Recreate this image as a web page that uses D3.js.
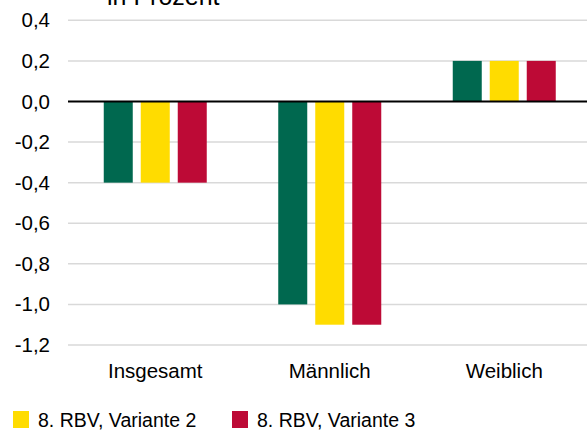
<!DOCTYPE html>
<html>
<head>
<meta charset="utf-8">
<script src="https://cdn.jsdelivr.net/npm/d3@7"></script>
<style>
  body { margin: 0; background: #fff; }
  svg { display: block; font-family: "Liberation Sans", Arial, sans-serif; }
</style>
</head>
<body>
<div id="chart-area"></div>
<script>
// values
var categories = ["Insgesamt", "Männlich", "Weiblich"]
var seriesNames = ["8. RBV, Variante 1", "8. RBV, Variante 2", "8. RBV, Variante 3"]
var variante1 = [-0.4, -1.0, 0.2]
var variante2 = [-0.4, -1.1, 0.2]
var variante3 = [-0.4, -1.1, 0.2]
var yTicks = [0.4, 0.2, 0.0, -0.2, -0.4, -0.6, -0.8, -1.0, -1.2]
var legendItems = ["8. RBV, Variante 2", "8. RBV, Variante 3"]
var colors = ["#00684f", "#ffdc00", "#bd0a36"]

var seriesValues = [variante1, variante2, variante3]

var svgWidth = 587, svgHeight = 432
var svg = d3.select("#chart-area").append("svg")
    .attr("width", svgWidth)
    .attr("height", svgHeight)

var plotLeft = 68, plotRight = 591.5

var yScale = d3.scaleLinear()
    .domain([-1.2, 0.4])
    .range([345, 20.3])

var xScale = d3.scaleBand()
    .domain(categories)
    .range([plotLeft, plotRight])

var xInner = d3.scaleBand()
    .domain(d3.range(seriesNames.length))
    .range([-51.5, 51.5])
    .paddingInner(8 / 37)

var fmt = function(v) { return d3.format(".1f")(v).replace(".", ",").replace("−", "-") }

// grid
var grid = svg.append("g").attr("id", "grid")
grid.selectAll("line")
    .data(yTicks.filter(function(t) { return t !== 0 }))
    .enter().append("line")
    .attr("x1", plotLeft)
    .attr("x2", svgWidth)
    .attr("y1", function(d) { return yScale(d) })
    .attr("y2", function(d) { return yScale(d) })
    .attr("stroke", "#d9d9d9")
    .attr("stroke-width", 1.5)

// y axis labels
var yAxis = svg.append("g")
    .attr("id", "y-axis")
    .attr("transform", "translate(50,0)")
    .call(d3.axisLeft(yScale).tickValues(yTicks).tickFormat(fmt).tickSize(0).tickPadding(0))
yAxis.select(".domain").remove()
yAxis.selectAll("text")
    .attr("font-family", "Liberation Sans, Arial, sans-serif")
    .attr("font-size", "20.5px")
    .attr("fill", "#000")

// bars
var rows = []
categories.forEach(function(c, i) {
    seriesValues.forEach(function(vals, s) {
        rows.push({ cat: c, s: s, v: vals[i] })
    })
})

svg.append("g").attr("id", "bars")
    .selectAll(".bar")
    .data(rows)
    .enter().append("rect")
    .attr("class", "bar")
    .attr("x", function(d) { return xScale(d.cat) + xScale.bandwidth() / 2 + xInner(d.s) })
    .attr("width", xInner.bandwidth())
    .attr("y", function(d) { return yScale(Math.max(0, d.v)) })
    .attr("height", function(d) { return Math.abs(yScale(d.v) - yScale(0)) })
    .attr("fill", function(d) { return colors[d.s] })

// zero line
svg.append("line")
    .attr("x1", plotLeft)
    .attr("x2", svgWidth)
    .attr("y1", yScale(0))
    .attr("y2", yScale(0))
    .attr("stroke", "#000")
    .attr("stroke-width", 2)

// category labels
var xAxis = svg.append("g")
    .attr("id", "x-axis")
    .attr("transform", "translate(0,372)")
    .call(d3.axisBottom(xScale).tickSize(0).tickPadding(0))
xAxis.select(".domain").remove()
xAxis.selectAll("text")
    .attr("dy", 0)
    .attr("y", 6)
    .attr("font-family", "Liberation Sans, Arial, sans-serif")
    .attr("font-size", "20.5px")
    .attr("fill", "#000")

// unit label (cut at the top, as in the original)
svg.append("text")
    .attr("x", 107)
    .attr("y", 5)
    .attr("font-size", "25px")
    .attr("fill", "#000")
    .text("in Prozent")

// legend
var legend = svg.append("g").attr("id", "legend")
var legendX = [13, 232]
legendItems.forEach(function(name, i) {
    var g = legend.append("g").attr("transform", "translate(" + legendX[i] + ",411)")
    g.append("rect")
        .attr("width", 16)
        .attr("height", 17)
        .attr("fill", colors[i + 1])
    g.append("text")
        .attr("x", 25)
        .attr("y", 16)
        .attr("font-size", "19.5px")
        .attr("fill", "#000")
        .text(name)
})
</script>
</body>
</html>
